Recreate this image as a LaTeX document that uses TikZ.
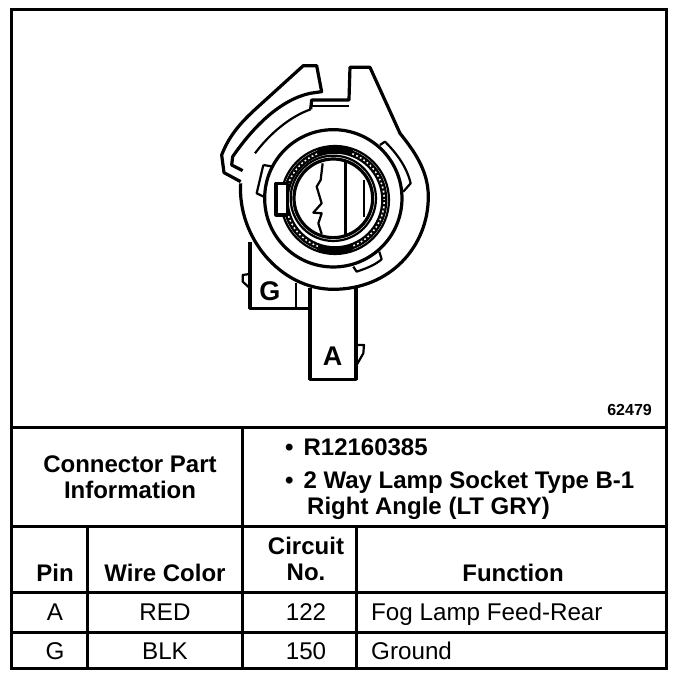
\documentclass[tikz,border=0pt]{standalone}
\usepackage{fontspec}
\setmainfont{Liberation Sans}
\newcommand{\bt}{\fontsize{24}{26}\selectfont\bfseries}
\newcommand{\rt}{\fontsize{24.2}{26}\selectfont}
\tikzset{
  frameline/.style={line width=3pt,black},
  part/.style={line width=2.2pt,black,line join=round},
  thickpart/.style={line width=3.2pt,black,line join=round},
  hdr/.style={inner sep=0pt,align=center,font=\bt},
  cell/.style={inner sep=0pt,font=\rt},
  letter/.style={inner sep=0pt,font=\fontsize{27}{28}\selectfont\bfseries}
}
\begin{document}
\begin{tikzpicture}[x=1pt,y=-1pt]
\useasboundingbox (0,0) rectangle (688,684);
% frame and table rules
\coordinate (tl) at (11,10);
\coordinate (br) at (666,668);
\draw[frameline] (tl) rectangle (br);
\draw[frameline] (11,427) -- (666,427);
\draw[frameline] (11,526) -- (666,526);
\draw[frameline] (11,592) -- (666,592);
\draw[frameline] (11,632) -- (666,632);
\draw[frameline] (242,427) -- (242,668);
\draw[frameline] (87,526) -- (87,668);
\draw[frameline] (356,526) -- (356,668);
% texts
\node[inner sep=0pt,font=\fontsize{16}{18}\selectfont\bfseries,anchor=east] (num) at (652,410) {62479};
\node[hdr] (cpi) at (130,477) {Connector Part\\[0pt]Information};
\node[hdr,anchor=west] (b1) at (285,447) {•\hspace{10pt}R12160385};
\node[hdr,anchor=west] (b2) at (285,482) {•\hspace{10pt}2 Way Lamp Socket Type B-1};
\node[hdr,anchor=west] (b3) at (307,508) {Right Angle (LT GRY)};
\node[hdr] (pin) at (55,573) {Pin};
\node[hdr] (wc) at (165,573) {Wire Color};
\node[hdr] (cn) at (306,559) {Circuit\\[0pt]No.};
\node[hdr] (fn) at (513,573) {Function};
\node[cell,anchor=base] (a1) at (55,620) {A};
\node[cell,anchor=base] (a2) at (165,620) {RED};
\node[cell,anchor=base] (a3) at (306,620) {122};
\node[cell,anchor=base west] (a4) at (371,620) {Fog Lamp Feed-Rear};
\node[cell,anchor=base] (g1) at (55,659.5) {G};
\node[cell,anchor=base] (g2) at (165,659.5) {BLK};
\node[cell,anchor=base] (g3) at (306,659.5) {150};
\node[cell,anchor=base west] (g4) at (371,659.5) {Ground};
% connector drawing, in zoom coordinates
\begin{scope}[shift={(200,50)},x=0.3333pt,y=-0.3333pt]
  % blade A
  \draw[thickpart] (330,715) -- (330,988) -- (468,988) -- (468,715);
  \draw[part] (470,885) -- (492,885) -- (490,910) -- (470,945);
  \node[letter] (la) at (398,920) {A};
  % blade G
  \draw[thickpart] (150,575) -- (150,775) -- (330,775);
  \draw[part] (288,700) -- (288,775);
  \draw[part] (150,672) -- (128,675) -- (128,695) -- (150,715);
  \node[letter] (lg) at (210,725) {G};
  % body outline
  \draw[thickpart] (122,400) .. controls (112,560) and (240,718) .. (400,718)
     .. controls (570,718) and (685,590) .. (685,440)
     .. controls (685,360) and (640,300) .. (600,250)
     -- (510,52) -- (450,52) -- (447,150) -- (335,150) -- (332,178);
  % left latch
  \draw[thickpart] (122,395) -- (72,368) -- (65,315) .. controls (90,250) and (130,210) .. (180,165)
     -- (310,47) -- (350,47) -- (365,125) -- (330,130)
     .. controls (240,150) and (160,230) .. (98,320) -- (95,345) -- (128,362);
  \draw[part] (332,178) .. controls (270,200) and (210,250) .. (165,310);
  \draw[part] (335,168) -- (447,168);
  % rings
  \draw[thickpart] (400,445) circle[radius=206];
  \draw[part] (405,450) circle[radius=162];
  \draw[part] (405,450) circle[radius=154];
  \draw[part,dotted] (405,450) circle[radius=148];
  \draw[part] (405,450) circle[radius=142];
  \draw[thickpart] (400,445) circle[radius=118];
  \draw[part] (400,445) circle[radius=128];
  % dense top and bottom of rings
  \draw[line width=6pt] (405,450) ++(110:152) arc[start angle=110,end angle=70,radius=152];
  \draw[line width=6pt] (405,450) ++(250:152) arc[start angle=250,end angle=290,radius=152];
  % socket tabs
  \draw[thickpart,fill=white] (228,400) rectangle (262,495);
  \draw[part] (190,345) -- (220,350);
  \draw[part] (190,345) -- (170,430) -- (195,442);
  \draw[part] (540,285) -- (555,275) .. controls (590,310) and (620,350) .. (632,400) -- (610,425);
  \draw[part] (460,650) -- (470,665) .. controls (500,655) and (525,645) .. (545,628) -- (538,605);
  % contact
  \draw[part] (368,340) -- (362,390) -- (350,410) -- (365,460) -- (340,488) -- (365,490) -- (355,520) -- (365,552);
  \draw[thickpart] (437,335) -- (437,557);
  \draw[part] (493,390) -- (493,500);
\end{scope}
\end{tikzpicture}
\end{document}
